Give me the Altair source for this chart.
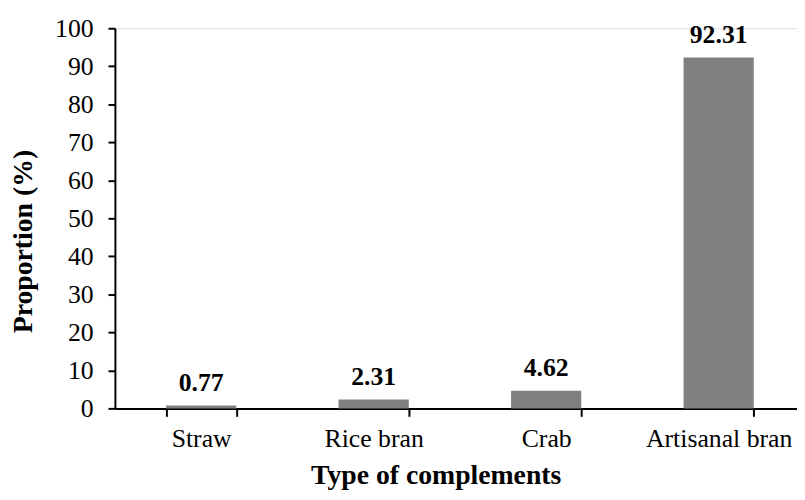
import altair as alt
import pandas as pd

categories = ["Straw", "Rice bran", "Crab", "Artisanal bran"]
values = [0.77, 2.31, 4.62, 92.31]
labels = ["0.77", "2.31", "4.62", "92.31"]

df = pd.DataFrame({"cat": categories, "val": values, "lab": labels})

FONT = "Liberation Serif"

x = alt.X("cat:N", sort=categories, title="Type of complements",
          scale=alt.Scale(range=[0, 697], paddingInner=0.593, paddingOuter=0.2965),
          axis=alt.Axis(labelAngle=0, tickBand="extent", tickSize=8, tickWidth=2,
                        domainWidth=2, domainColor="black", tickColor="black",
                        labelFont=FONT, labelFontSize=26, labelColor="black",
                        labelBaseline="alphabetic", labelPadding=30,
                        titleFont=FONT, titleFontSize=28, titleFontWeight="bold",
                        titleColor="black", titleX=324, titleY=76,
                        titleAlign="center", titleBaseline="alphabetic"))
y = alt.Y("val:Q", title="Proportion (%)",
          scale=alt.Scale(domain=[0, 100]),
          axis=alt.Axis(values=list(range(0, 101, 10)), grid=False, tickSize=7, tickWidth=2,
                        domainWidth=2, domainColor="black", tickColor="black",
                        labelOverlap=False, labelFlush=False,
                        labelFont=FONT, labelFontSize=26, labelColor="black",
                        labelPadding=15, titleFont=FONT, titleFontSize=28,
                        titleFontWeight="bold", titleColor="black",
                        titleAngle=-90, titleX=-84, titleY=215,
                        titleAlign="center", titleBaseline="alphabetic"))

base = alt.Chart(df).encode(x=x, y=y)
bars = base.mark_bar(color="#808080")
text = base.mark_text(font=FONT, fontSize=26, fontWeight="bold", color="black",
                      baseline="alphabetic", dy=-15).encode(text="lab:N")

chart = (bars + text).properties(
    width=689, height=384,
    autosize=alt.AutoSizeParams(type="none"),
    padding={"left": 108, "top": 18, "right": 0, "bottom": 82},
).configure_view(stroke=None).configure(background="white")

chart.save("out.html", embed_options={"renderer": "svg", "actions": False})
